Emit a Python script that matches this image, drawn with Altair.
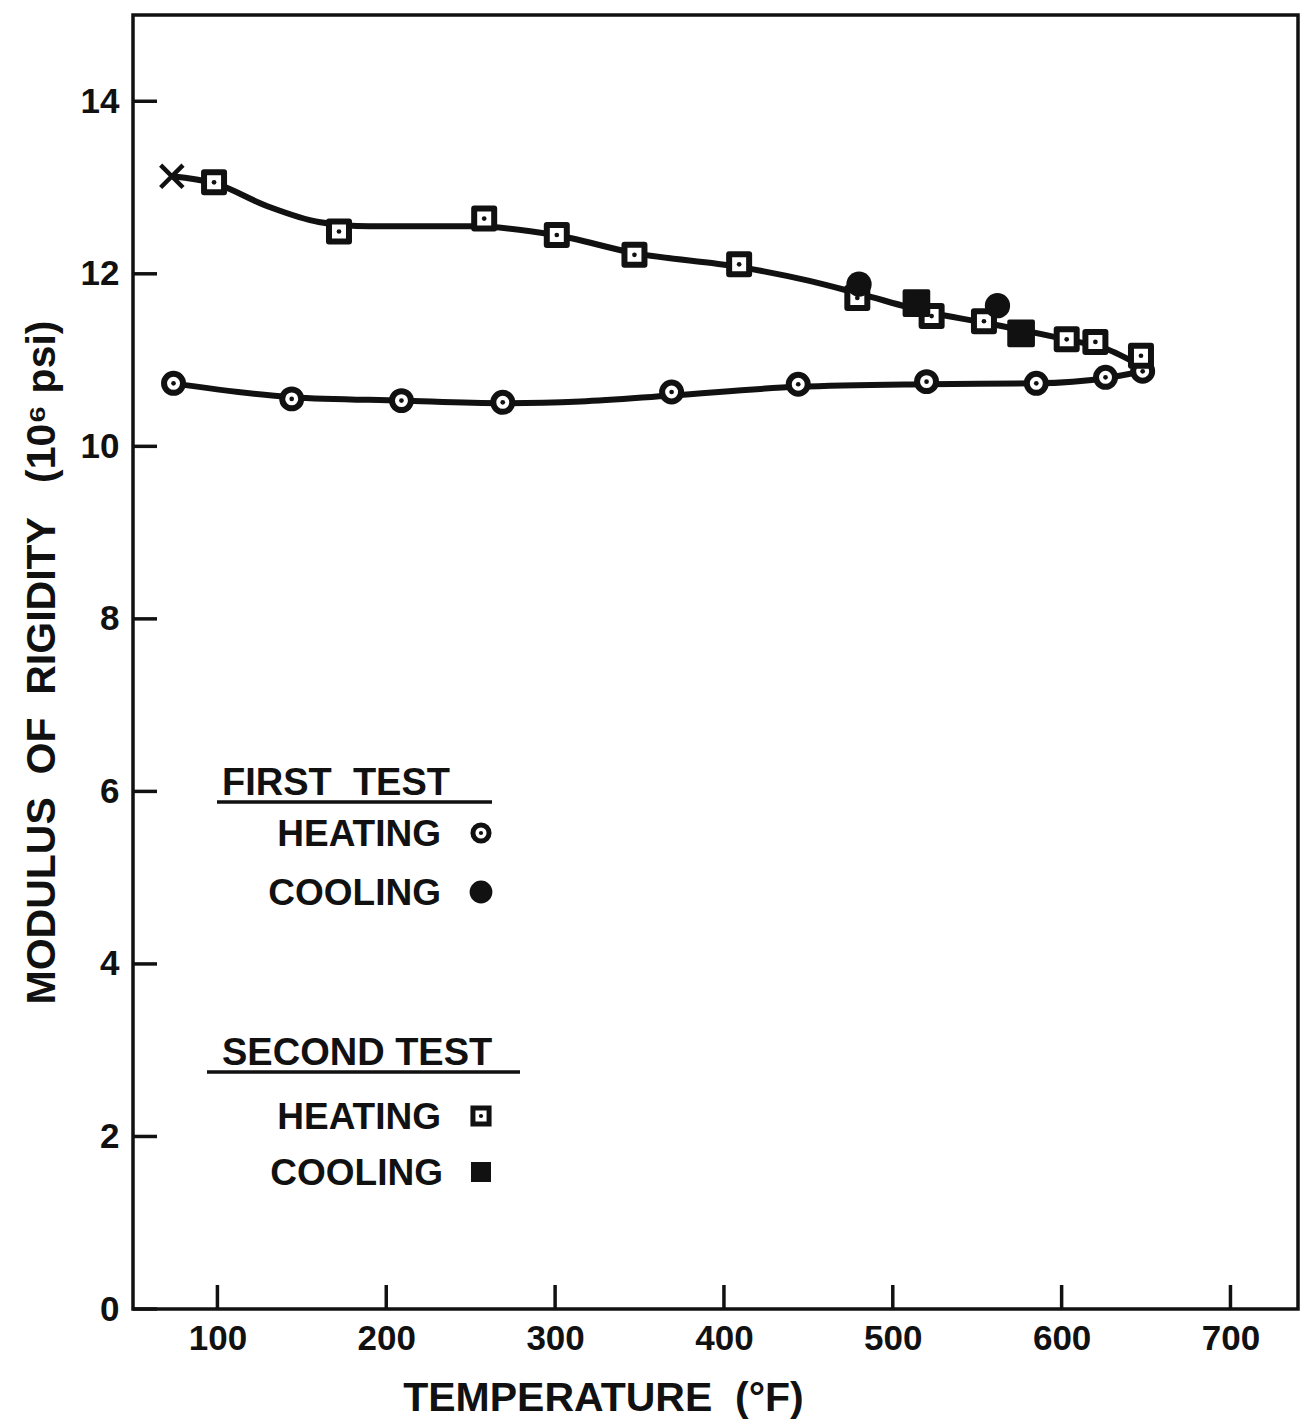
import altair as alt
import pandas as pd

# ---------------- data ----------------
# First test, heating (open circles with centre dot)
first_heat_T = [74, 144, 209, 269, 369, 444, 520, 585, 626, 648]
first_heat_V = [10.73, 10.55, 10.53, 10.51, 10.63, 10.72, 10.75, 10.73, 10.80, 10.87]
# First test, cooling (filled circles)
first_cool_T = [480, 562]
first_cool_V = [11.88, 11.63]
# Second test, heating (open squares with centre dot)
second_heat_T = [98, 172, 258, 301, 347, 409, 479, 523, 554, 603, 620, 647]
second_heat_V = [13.06, 12.49, 12.64, 12.45, 12.22, 12.11, 11.72, 11.51, 11.45, 11.24, 11.21, 11.05]
# Second test, cooling (filled squares)
second_cool_T = [514, 576]
second_cool_V = [11.66, 11.31]
# Starting point marked with an x
start_T = [73]
start_V = [13.13]
# Faired curves drawn through the data
top_curve_T = [73, 98, 130, 160, 190, 250, 300, 347, 409, 450, 480, 520, 555, 605, 625, 648]
top_curve_V = [13.13, 13.05, 12.78, 12.6, 12.55, 12.55, 12.45, 12.24, 12.08, 11.92, 11.77, 11.56, 11.43, 11.23, 11.14, 10.92]
bot_curve_T = [74, 144, 209, 269, 315, 369, 444, 520, 585, 626, 648]
bot_curve_V = [10.73, 10.57, 10.53, 10.50, 10.52, 10.59, 10.69, 10.72, 10.73, 10.79, 10.87]
# Axis ticks
x_ticks = [100, 200, 300, 400, 500, 600, 700]
y_ticks = [0, 2, 4, 6, 8, 10, 12, 14]

W, H = 1165, 1294
INK = "#111111"
FONT = "Liberation Sans"

xs = alt.Scale(domain=[50, 740], nice=False, zero=False)
ys = alt.Scale(domain=[0, 15], nice=False)

xaxis = alt.Axis(values=x_ticks, ticks=False, domain=False, grid=False,
                 labelFont=FONT, labelFontSize=35, labelFontWeight="bold",
                 labelColor=INK, labelPadding=12,
                 title="TEMPERATURE\u00a0\u00a0(°F)", titleFont=FONT, titleFontSize=41,
                 titleFontWeight="bold", titleColor=INK,
                 titleX=470, titleY=89, titleBaseline="middle", titleAnchor="middle")
yaxis = alt.Axis(values=y_ticks, ticks=False, domain=False, grid=False,
                 labelFont=FONT, labelFontSize=35, labelFontWeight="bold",
                 labelColor=INK, labelPadding=14,
                 title="MODULUS\u00a0\u00a0OF\u00a0\u00a0RIGIDITY\u00a0\u00a0\u00a0(10⁶ psi)",
                 titleFont=FONT, titleFontSize=41,
                 titleFontWeight="bold", titleColor=INK,
                 titleX=-91, titleY=647, titleBaseline="middle", titleAnchor="middle",
                 titleAngle=270)

def df(T, V):
    return pd.DataFrame({"T": T, "V": V})

def X():
    return alt.X("T:Q", scale=xs, axis=xaxis)

def Y():
    return alt.Y("V:Q", scale=ys, axis=yaxis)

top_curve = alt.Chart(df(top_curve_T, top_curve_V)).mark_line(
    color=INK, strokeWidth=6, interpolate="monotone").encode(x=X(), y=Y())
bot_curve = alt.Chart(df(bot_curve_T, bot_curve_V)).mark_line(
    color=INK, strokeWidth=6, interpolate="monotone").encode(x=X(), y=Y())

fh = alt.Chart(df(first_heat_T, first_heat_V))
fh_ring = fh.mark_point(shape="circle", size=360, filled=True, fill="white",
                        stroke=INK, strokeWidth=6, opacity=1).encode(x=X(), y=Y())
fh_dot = fh.mark_point(shape="circle", size=22, filled=True, color=INK,
                       opacity=1).encode(x=X(), y=Y())

sh = alt.Chart(df(second_heat_T, second_heat_V))
sh_box = sh.mark_point(shape="square", size=400, filled=True, fill="white",
                       stroke=INK, strokeWidth=6, strokeJoin="round",
                       opacity=1).encode(x=X(), y=Y())
sh_dot = sh.mark_point(shape="circle", size=22, filled=True, color=INK,
                       opacity=1).encode(x=X(), y=Y())

fc = alt.Chart(df(first_cool_T, first_cool_V)).mark_point(
    shape="circle", size=640, filled=True, color=INK, opacity=1).encode(x=X(), y=Y())
sc = alt.Chart(df(second_cool_T, second_cool_V)).mark_point(
    shape="square", size=560, filled=True, color=INK, strokeJoin="round",
    stroke=INK, strokeWidth=4, opacity=1).encode(x=X(), y=Y())

start = alt.Chart(df(start_T, start_V)).mark_point(
    shape="M-1,-1L1,1M-1,1L1,-1", size=500, filled=False, stroke=INK,
    strokeWidth=4.5, opacity=1).encode(x=X(), y=Y())

# inward tick marks
xt = alt.Chart(pd.DataFrame({"T": x_ticks})).mark_rule(color=INK, strokeWidth=3.5).encode(
    x=X(), y=alt.value(H), y2=alt.value(H - 24))
yt = alt.Chart(pd.DataFrame({"V": y_ticks})).mark_rule(color=INK, strokeWidth=3.5).encode(
    y=Y(), x=alt.value(0), x2=alt.value(24))

# ---------------- hand-drawn legend ----------------
one = pd.DataFrame({"a": [0]})
def txt(s, x, y, align, size=37):
    return alt.Chart(one).mark_text(text=s, font=FONT, fontSize=size, fontWeight="bold",
                                    color=INK, align=align, baseline="middle").encode(
        x=alt.value(x), y=alt.value(y))
def line(x1, x2, y):
    return alt.Chart(one).mark_rule(color=INK, strokeWidth=3.5).encode(
        x=alt.value(x1), x2=alt.value(x2), y=alt.value(y))
def sym(x, y, **kw):
    return alt.Chart(one).mark_point(opacity=1, **kw).encode(x=alt.value(x), y=alt.value(y))

legend = [
    txt("FIRST\u00a0\u00a0TEST", 89, 769, "left", 38),
    line(84, 359, 787),
    txt("HEATING", 308, 820, "right"),
    sym(348, 818, shape="circle", size=260, filled=True, fill="white", stroke=INK, strokeWidth=5),
    sym(348, 818, shape="circle", size=18, filled=True, color=INK),
    txt("COOLING", 308, 879, "right"),
    sym(348, 877, shape="circle", size=520, filled=True, color=INK),
    txt("SECOND\u00a0TEST", 89, 1039, "left", 38),
    line(74, 387, 1057),
    txt("HEATING", 308, 1103, "right"),
    sym(348, 1101, shape="square", size=260, filled=True, fill="white", stroke=INK, strokeWidth=5),
    sym(348, 1101, shape="circle", size=18, filled=True, color=INK),
    txt("COOLING", 310, 1159, "right"),
    sym(348, 1157, shape="square", size=400, filled=True, color=INK),
]

chart = alt.layer(
    top_curve, bot_curve, xt, yt,
    fh_ring, fh_dot, sh_box, sh_dot, fc, sc, start,
    *legend
).properties(
    width=W, height=H,
    autosize=alt.AutoSizeParams(type="none"),
    padding={"left": 133, "top": 15, "right": 17, "bottom": 119},
    background="white",
).configure_view(stroke=INK, strokeWidth=3.5)

chart.save("out.html", embed_options={"renderer": "svg", "actions": False})
